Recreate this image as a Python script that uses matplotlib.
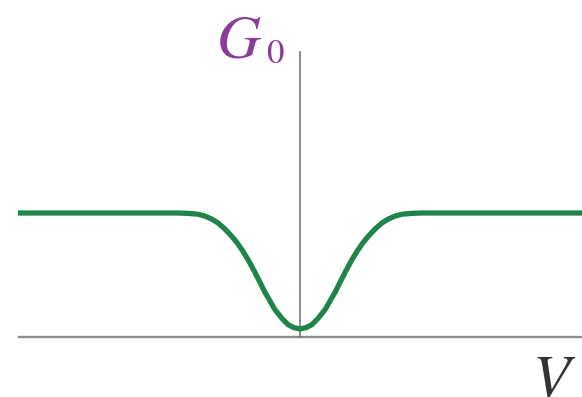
import numpy as np
import matplotlib
matplotlib.use("Agg")
import matplotlib.pyplot as plt

plt.rcParams['mathtext.fontset'] = 'stix'

# Conductance dip around zero bias (symmetric), normalised to the flat level
v_offset = [0.0, 0.06, 0.12, 0.18, 0.25, 0.30, 0.35, 0.40, 0.45, 0.51, 0.57,
            0.62, 0.68, 0.75, 0.82, 0.88, 0.95, 1.02, 1.12, 1.22, 1.35, 2.82]
g_value = [0.065, 0.075, 0.10, 0.15, 0.22, 0.29, 0.36, 0.44, 0.52, 0.61, 0.69,
           0.75, 0.81, 0.87, 0.92, 0.95, 0.975, 0.99, 0.997, 1.0, 1.0, 1.0]

v = np.concatenate([-np.array(v_offset[::-1]), np.array(v_offset[1:])])
g = np.concatenate([np.array(g_value[::-1]), np.array(g_value[1:])])

fig = plt.figure(figsize=(5.82, 3.97), dpi=100)
ax = fig.add_axes([0, 0, 1, 1])
ax.set_xlim(-3.0, 2.82)
ax.set_ylim(-60 / 124, 337 / 124)
ax.axis('off')

# axes lines
ax.plot([-2.82, 2.82], [0, 0], color='#8c8c8c', lw=1.7, solid_capstyle='butt', zorder=1)
ax.plot([0, 0], [0, 2.31], color='#6e6e6e', lw=1.1, solid_capstyle='butt', zorder=1)

ax.plot(v, g, color='#1e8449', lw=3.8, solid_capstyle='butt', zorder=2)

# axis labels: G with subscript 0, and V
purple = '#8e3a98'
ax.text(-0.84, (337 - 58) / 124, r'$G$', color=purple, fontsize=44,
        ha='left', va='baseline')
ax.text(-0.34, (337 - 63) / 124, r'$\mathrm{0}$', color=purple, fontsize=25,
        ha='left', va='baseline')
ax.text(2.32, (337 - 397) / 124, r'$V$', color='#333333', fontsize=44,
        ha='left', va='baseline')

fig.savefig('out.png', dpi=100)
